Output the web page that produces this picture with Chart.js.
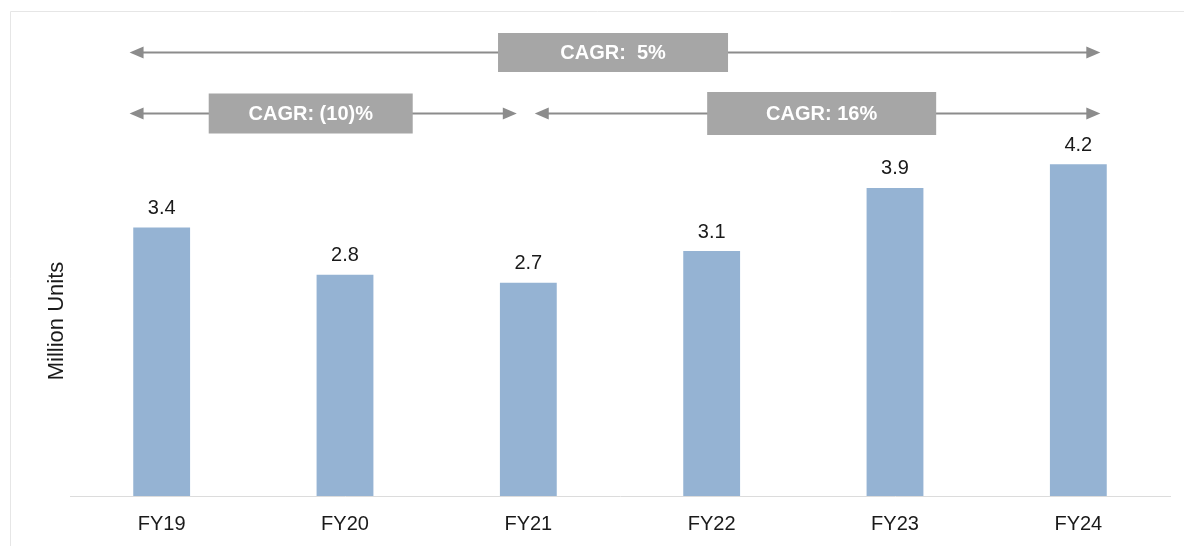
<!DOCTYPE html>
<html>
<head>
<meta charset="utf-8">
<script src="https://cdn.jsdelivr.net/npm/chart.js@4"></script>
<style>
  html, body { margin: 0; padding: 0; background: #fff; }
  #wrap { width: 1184px; height: 546px; position: relative; }
</style>
</head>
<body>
<div id="wrap"><canvas id="chart"></canvas></div>
<script>
// chart data
var years = ["FY19", "FY20", "FY21", "FY22", "FY23", "FY24"];
var units = [3.4, 2.8, 2.7, 3.1, 3.9, 4.2];
var cagrLabels = ["CAGR:  5%", "CAGR: (10)%", "CAGR: 16%"];

var FONT = "Arial, 'Liberation Sans', sans-serif";

// CAGR arrows: from/to in category index units, row level in y units
var arrows = [
  { from: -0.175, to: 5.12, y: 5.62, box: { x: 2.462, w: 230, h: 39 }, text: cagrLabels[0] },
  { from: -0.175, to: 1.937, y: 4.85, box: { x: 0.813, w: 204, h: 40 }, text: cagrLabels[1] },
  { from: 2.035, to: 5.12, y: 4.85, box: { x: 3.6, w: 229, h: 43 }, text: cagrLabels[2] }
];

function arrowHead(ctx, x, y, dir) {
  ctx.beginPath();
  ctx.moveTo(x, y);
  ctx.lineTo(x - dir * 14, y - 6);
  ctx.lineTo(x - dir * 14, y + 6);
  ctx.closePath();
  ctx.fill();
}

var extras = {
  id: "extras",
  afterDraw: function (chart) {
    var ctx = chart.ctx;
    var xs = chart.scales.x, ys = chart.scales.y;
    ctx.save();

    // faint frame
    ctx.strokeStyle = "#e6e6e6";
    ctx.lineWidth = 1;
    ctx.beginPath();
    ctx.moveTo(10.5, 546);
    ctx.lineTo(10.5, 11.5);
    ctx.lineTo(1184, 11.5);
    ctx.stroke();

    // arrows + boxes
    arrows.forEach(function (a) {
      var x1 = xs.getPixelForValue(a.from), x2 = xs.getPixelForValue(a.to);
      var y = Math.round(ys.getPixelForValue(a.y)) + 0.5;
      ctx.strokeStyle = "#8c8c8c";
      ctx.fillStyle = "#8c8c8c";
      ctx.lineWidth = 2;
      ctx.beginPath();
      ctx.moveTo(x1 + 6, y);
      ctx.lineTo(x2 - 6, y);
      ctx.stroke();
      arrowHead(ctx, x1, y, -1);
      arrowHead(ctx, x2, y, 1);

      var bx = xs.getPixelForValue(a.box.x);
      ctx.fillStyle = "#a6a6a6";
      ctx.fillRect(bx - a.box.w / 2, y - a.box.h / 2, a.box.w, a.box.h);
      ctx.fillStyle = "#ffffff";
      ctx.font = "bold 20px " + FONT;
      ctx.textAlign = "center";
      ctx.textBaseline = "middle";
      ctx.fillText(a.text, bx, y + 1);
    });

    // value labels
    var meta = chart.getDatasetMeta(0);
    ctx.fillStyle = "#1a1a1a";
    ctx.font = "20px " + FONT;
    ctx.textAlign = "center";
    ctx.textBaseline = "middle";
    meta.data.forEach(function (bar, i) {
      ctx.fillText(units[i].toFixed(1), bar.x, bar.y - 19);
    });

    // y title
    ctx.font = "22px " + FONT;
    ctx.translate(57, 321);
    ctx.rotate(-Math.PI / 2);
    ctx.fillText("Million Units", 0, 0);
    ctx.restore();
  }
};

var ctx = document.getElementById("chart").getContext("2d");
var myChart = new Chart(ctx, {
  type: "bar",
  data: {
    labels: years,
    datasets: [
      {
        data: units,
        backgroundColor: "#95b3d3",
        borderWidth: 0,
        categoryPercentage: 1,
        barPercentage: 0.31
      }
    ]
  },
  options: {
    responsive: true,
    maintainAspectRatio: false,
    animation: false,
    layout: { padding: { left: 70, right: 14, top: 22, bottom: 0 } },
    plugins: { legend: { display: false }, tooltip: { enabled: false } },
    scales: {
      x: {
        grid: { display: false },
        border: { display: true, color: "#dcdcdc", width: 1 },
        ticks: { color: "#1a1a1a", padding: 8, font: { size: 20, family: FONT } },
        afterFit: function (scale) { scale.height = 50; }
      },
      y: {
        display: false,
        min: 0,
        max: 6
      }
    }
  },
  plugins: [extras]
});
</script>
</body>
</html>
